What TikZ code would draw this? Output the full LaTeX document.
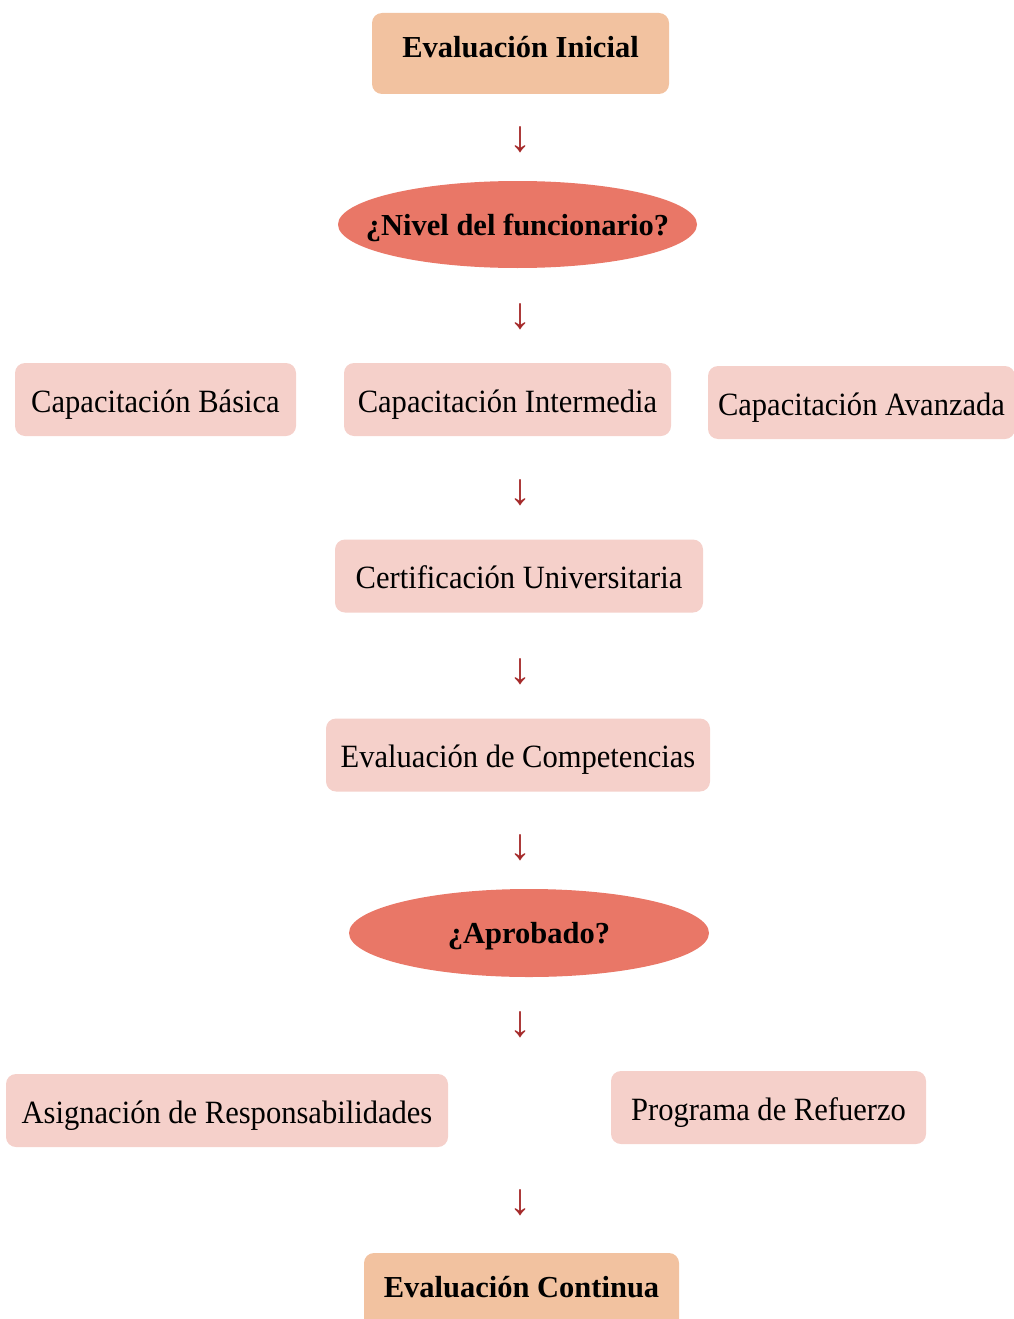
\documentclass[tikz,border=0pt]{standalone}
\usepackage{fontspec}
\setmainfont{Liberation Serif}
\newfontfamily\estrecha[FakeStretch=0.94]{Liberation Serif}
\usetikzlibrary{shapes.geometric,positioning}
\definecolor{melocoton}{RGB}{242,194,160}
\definecolor{coral}{RGB}{233,119,103}
\definecolor{rosa}{RGB}{245,208,202}
\definecolor{granate}{RGB}{165,42,42}
\newcommand{\letra}{\estrecha\fontsize{32.5}{36}\selectfont}
\newcommand{\negrita}{\fontsize{30.5}{36}\selectfont\bfseries}
\begin{document}
\begin{tikzpicture}[x=1pt, y=-1pt,
	every node/.style={font=\letra, inner sep=0pt},
	inicio/.style={rectangle, rounded corners=10pt, fill=melocoton, font=\negrita, text height=21pt, text depth=13pt},
	caja/.style={rectangle, rounded corners=10pt, fill=rosa, minimum height=73pt, text height=25pt, text depth=0pt},
	decision/.style={ellipse, fill=coral, font=\negrita, text height=21pt, text depth=0pt},
	flecha/.style={text=granate, font=\fontsize{44}{50}\selectfont}]
	\useasboundingbox (0,0) rectangle (1013,1319);
	
	\node (inicial) [inicio, minimum width=297pt, minimum height=81pt] at (520.5,53.5) {Evaluación Inicial};
	\node (f1) [flecha] at (520,140) {↓};
	\node (nivel) [decision, minimum width=359pt, minimum height=87pt] at (517.5,224.5) {\makebox[0pt]{¿Nivel del funcionario?}};
	\node (f2) [flecha] at (520,317) {↓};
	
	\node (basica) [caja, minimum width=281pt] at (155.5,399.5) {Capacitación Básica};
	\node (intermedia) [caja, minimum width=327pt] at (507.5,399.5) {Capacitación Intermedia};
	\node (avanzada) [caja, minimum width=307pt] at (861.5,402.5) {Capacitación Avanzada};
	\node (f3) [flecha] at (520,493) {↓};
	
	\node (certificacion) [caja, minimum width=368pt] at (519,576) {Certificación Universitaria};
	\node (f4) [flecha] at (520,672) {↓};
	\node (competencias) [caja, minimum width=384pt] at (518,755) {Evaluación de Competencias};
	\node (f5) [flecha] at (520,848) {↓};
	
	\node (aprobado) [decision, minimum width=360pt, minimum height=88pt] at (529,933) {\makebox[0pt]{¿Aprobado?}};
	\node (f6) [flecha] at (520,1025) {↓};
	
	\node (asignacion) [caja, minimum width=442pt] at (227,1110.5) {Asignación de Responsabilidades};
	\node (refuerzo) [caja, minimum width=315pt] at (768.5,1107.5) {Programa de Refuerzo};
	\node (f7) [flecha] at (520,1203) {↓};
	
	\node (continua) [inicio, minimum width=315pt, minimum height=81pt] at (521.5,1293.5) {Evaluación Continua};
\end{tikzpicture}
\end{document}
